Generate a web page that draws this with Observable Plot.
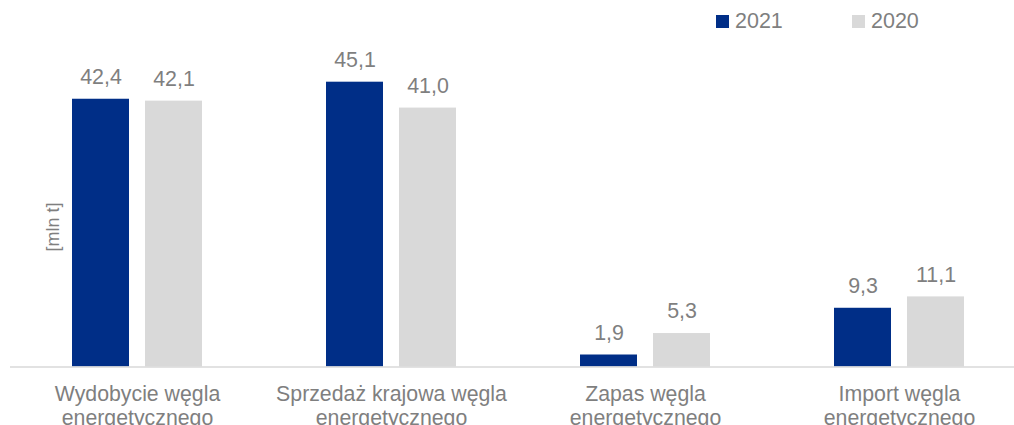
<!DOCTYPE html>
<html>
<head>
<meta charset="utf-8">
<script src="https://cdn.jsdelivr.net/npm/d3@7"></script>
<script src="https://cdn.jsdelivr.net/npm/@observablehq/plot@0.6"></script>
<style>
  html, body { margin: 0; padding: 0; background: #fff; }
  #wrap { position: relative; width: 1014px; height: 425px; overflow: hidden; font-family: "Liberation Sans", Arial, sans-serif; }
  .leg { position: absolute; top: 9px; font-size: 21.5px; color: #7f7f7f; line-height: 24px; display: flex; align-items: center; }
  .leg span.sw { display: inline-block; width: 13px; height: 13px; margin-right: 6px; }
  #ylab { position: absolute; left: 53px; top: 227px; transform: translate(-50%, -50%) rotate(-90deg); font-size: 18px; color: #7f7f7f; white-space: nowrap; }
</style>
</head>
<body>
<div id="wrap">
  <div id="chart"></div>
  <div id="ylab">[mln t]</div>
  <div id="legend"></div>
</div>
<script>
const categories = [
  "Wydobycie węgla\nenergetycznego",
  "Sprzedaż krajowa węgla\nenergetycznego",
  "Zapas węgla\nenergetycznego",
  "Import węgla\nenergetycznego"
];
const seriesNames = ["2021", "2020"];
const values2021 = [42.4, 45.1, 1.9, 9.3];
const values2020 = [42.1, 41.0, 5.3, 11.1];
const colors = ["#002e87", "#d9d9d9"];

const data = [];
categories.forEach((c, i) => {
  data.push({category: c, series: "2021", value: values2021[i]});
  data.push({category: c, series: "2020", value: values2020[i]});
});
const fmt = v => v.toFixed(1).replace(".", ",");

const chart = Plot.plot({
  width: 1014,
  height: 425,
  marginLeft: 0,
  marginRight: 0,
  marginTop: 0,
  marginBottom: 58.5,
  style: {fontFamily: '"Liberation Sans", Arial, sans-serif', fontSize: "21px", background: "#fff"},
  fx: {domain: categories, range: [9.5, 1026.5], padding: 0, axis: null},
  x: {domain: seriesNames, range: [62.25, 192.25], paddingInner: 16 / 73, paddingOuter: 0, axis: null},
  y: {domain: [0, 50], range: [366.5, 50.75], axis: null},
  color: {domain: seriesNames, range: colors},
  marks: [
    Plot.barY(data, {fx: "category", x: "series", y: "value", fill: "series"}),
    Plot.ruleY([0], {stroke: "#d9d9d9", strokeWidth: 1.5}),
    Plot.text(data, {fx: "category", x: "series", y: "value", text: d => fmt(d.value), dy: -22, fill: "#7f7f7f", fontSize: 21.4}),
    Plot.text(categories, {fx: d => d, text: d => d, frameAnchor: "bottom", lineAnchor: "top", dy: 16.5, lineHeight: 1.15, fill: "#7f7f7f", fontSize: 21.3})
  ]
});
document.getElementById("chart").appendChild(chart);

const legend = document.getElementById("legend");
const legPos = [716, 852];
seriesNames.forEach((s, i) => {
  const item = document.createElement("div");
  item.className = "leg";
  item.style.left = legPos[i] + "px";
  item.innerHTML = `<span class="sw" style="background:${colors[i]}"></span>${s}`;
  legend.appendChild(item);
});
</script>
</body>
</html>
